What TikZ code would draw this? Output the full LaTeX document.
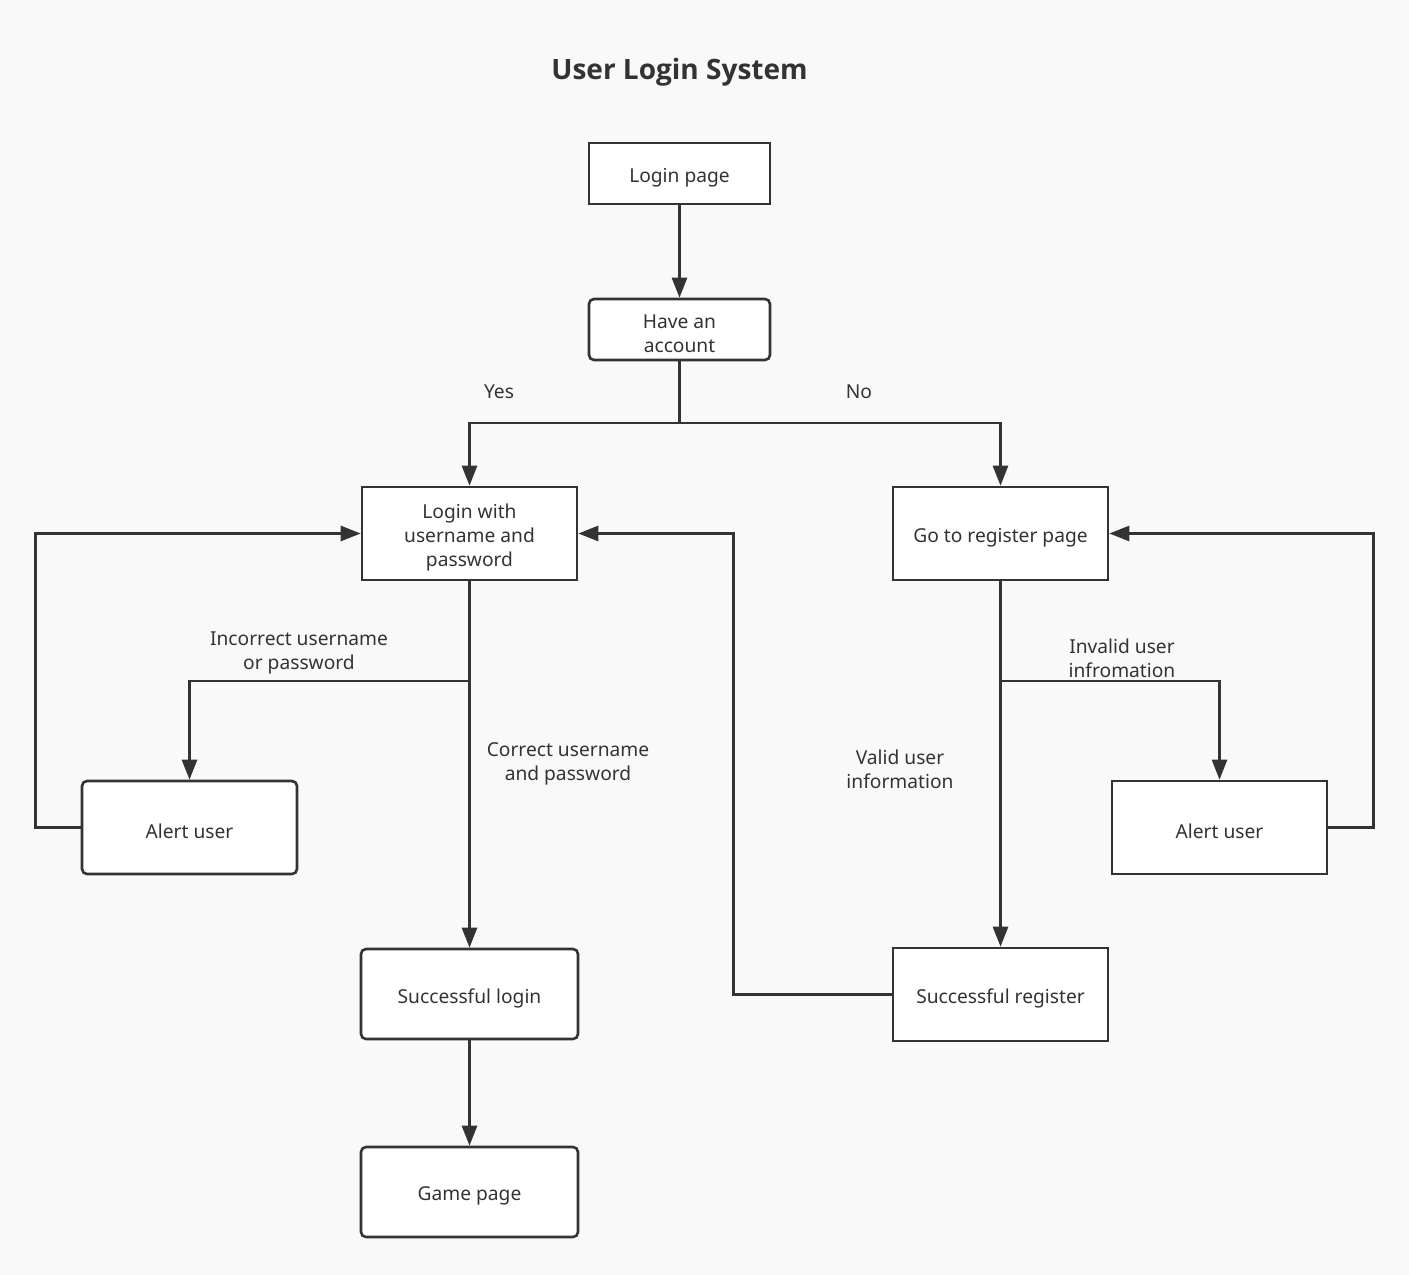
\documentclass[tikz,border=0pt]{standalone}
\usepackage{fontspec}
\setmainfont{Noto Sans}
\newfontfamily\titlefont{Open Sans}
\usetikzlibrary{arrows.meta}
\definecolor{bgc}{HTML}{F9F9F9}
\definecolor{ink}{HTML}{333333}
\begin{document}
\begin{tikzpicture}[x=1pt,y=-1pt,
  every node/.style={font=\fontsize{19.2}{24}\selectfont, text=ink},
  box/.style={draw=ink, line width=2.6pt, fill=white, align=center, inner sep=0pt},
  rbox/.style={box, rounded corners=5pt},
  btxt/.style={label={[align=center, yshift=-4pt]center:{#1}}},
  conn/.style={draw=ink, line width=2.6pt, -{Triangle[width=15pt,length=20pt]}},
  lbl/.style={align=center}]
\fill[bgc] (0,0) rectangle (1409,1275);
\useasboundingbox (0,0) rectangle (1409,1275);

\node[font=\titlefont\bfseries\fontsize{28}{32}\selectfont] (title) at (679.5,72.5) {User Login System};

\node[box, minimum width=181pt, minimum height=61pt, btxt={Login page}] (lp) at (679.5,173.5) {};
\node[rbox, minimum width=181pt, minimum height=61pt, btxt={Have an\\account}] (ha) at (679.5,329.5) {};
\node[box, minimum width=215pt, minimum height=93pt, btxt={Login with\\username and\\password}] (lw) at (469.5,533.5) {};
\node[box, minimum width=215pt, minimum height=93pt, btxt={Go to register page}] (gr) at (1000.5,533.5) {};
\node[rbox, minimum width=215pt, minimum height=93pt, btxt={Alert user}] (al) at (189.5,827.5) {};
\node[box, minimum width=215pt, minimum height=93pt, btxt={Alert user}] (ar) at (1219.5,827.5) {};
\node[rbox, minimum width=217pt, minimum height=90pt, btxt={Successful login}] (sl) at (469.5,994) {};
\node[box, minimum width=215pt, minimum height=93pt, btxt={Successful register}] (sr) at (1000.5,994.5) {};
\node[rbox, minimum width=217pt, minimum height=90pt, btxt={Game page}] (gp) at (469.5,1192) {};

\coordinate (hj) at (679.5,423);
\coordinate (lj) at (469.5,681);
\coordinate (rj) at (1000.5,681);

\draw[conn] (lp.south) -- (ha.north);
\draw[draw=ink, line width=2.6pt] (ha.south) -- (hj);
\draw[conn] (hj) -| (lw.north);
\draw[conn] (hj) -| (gr.north);
\draw[conn] (lw.south) -- (sl.north);
\draw[conn] (lj) -| (al.north);
\draw[conn] (al.west) -- ++(-45,0) |- (lw.west);
\draw[conn] (sl.south) -- (gp.north);
\draw[conn] (gr.south) -- (sr.north);
\draw[conn] (rj) -| (ar.north);
\draw[conn] (ar.east) -- ++(45,0) |- (gr.east);
\draw[conn] (sr.west) -- ++(-158,0) |- (lw.east);

\node[lbl] (yes) at (499,392) {Yes};
\node[lbl] (no) at (859,392) {No};
\node[lbl] (inc) at (299,653) {Incorrect username\\or password};
\node[lbl] (cor) at (568,764) {Correct username\\and password};
\node[lbl] (val) at (900,769) {Valid user\\information};
\node[lbl] (inv) at (1122,658) {Invalid user\\infromation};
\end{tikzpicture}
\end{document}
